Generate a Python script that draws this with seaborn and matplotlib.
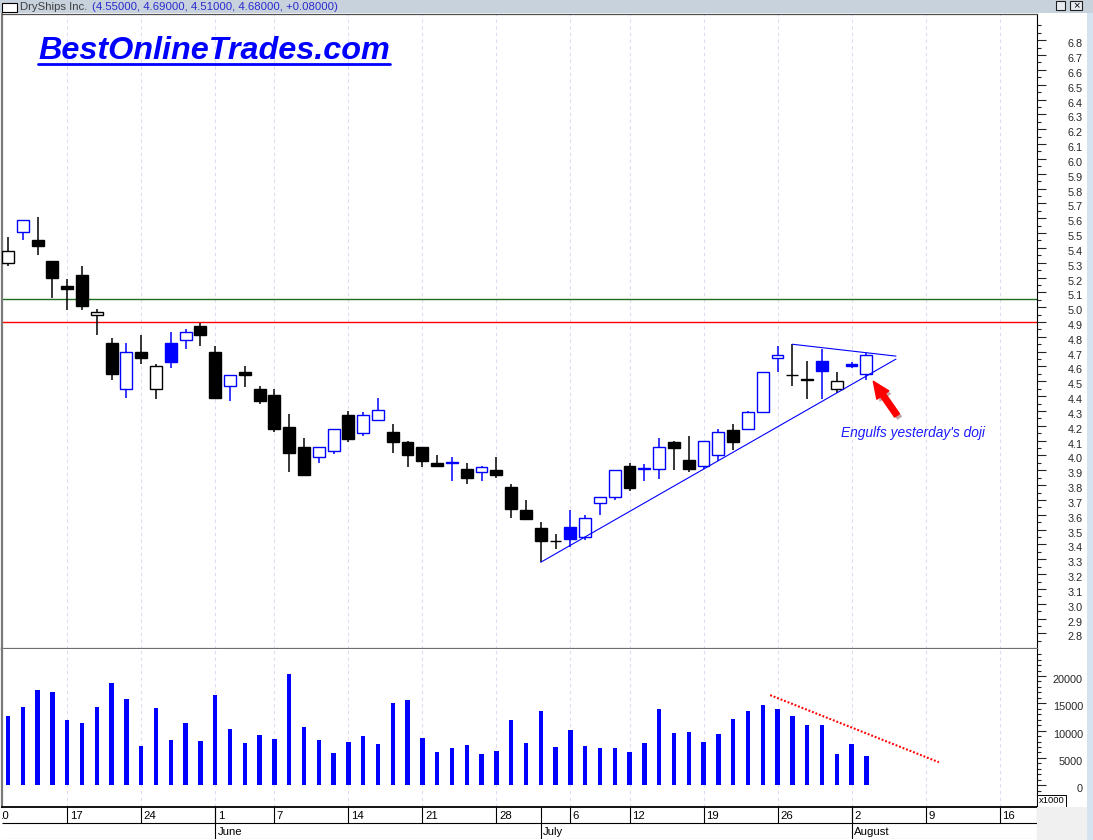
import matplotlib
matplotlib.use("Agg")
import matplotlib.pyplot as plt
import matplotlib.patheffects as pe
import matplotlib.transforms as mtransforms
from matplotlib.lines import Line2D
from matplotlib.patches import Rectangle
import numpy as np
import pandas as pd
import seaborn as sns

sns.set_style("white")
plt.rcParams["font.family"] = ["Liberation Sans", "DejaVu Sans"]

# ---- daily bars, DryShips Inc. (price in $, volume in thousands of shares) ----
opens = [5.30, 5.51, 5.45, 5.31, 5.14, 5.22, 4.95, 4.76, 4.45, 4.70,
         4.45, 4.76, 4.78, 4.87, 4.70, 4.47, 4.56, 4.45, 4.41, 4.19,
         4.06, 3.99, 4.03, 4.27, 4.15, 4.24, 4.16, 4.09, 4.06, 3.95,
         3.95, 3.91, 3.89, 3.90, 3.79, 3.63, 3.51, 3.42, 3.52, 3.45,
         3.68, 3.72, 3.93, 3.91, 3.91, 4.09, 3.97, 3.93, 4.00, 4.17,
         4.18, 4.29, 4.66, 4.54, 4.51, 4.64, 4.45, 4.62, 4.55]
highs = [5.47, 5.59, 5.61, 5.31, 5.19, 5.28, 4.99, 4.79, 4.76, 4.81,
         4.62, 4.83, 4.85, 4.89, 4.74, 4.54, 4.60, 4.47, 4.45, 4.28,
         4.12, 4.06, 4.18, 4.30, 4.29, 4.39, 4.21, 4.10, 4.06, 4.00,
         3.99, 3.95, 3.93, 3.99, 3.81, 3.70, 3.55, 3.47, 3.63, 3.60,
         3.72, 3.90, 3.95, 3.94, 4.12, 4.10, 4.13, 4.10, 4.18, 4.21,
         4.30, 4.56, 4.74, 4.75, 4.64, 4.72, 4.56, 4.63, 4.69]
lows = [5.28, 5.45, 5.35, 5.06, 4.98, 4.98, 4.81, 4.51, 4.39, 4.62,
        4.38, 4.59, 4.72, 4.74, 4.38, 4.37, 4.46, 4.35, 4.16, 3.89,
        3.86, 3.95, 4.01, 4.09, 4.13, 4.23, 4.02, 3.92, 3.92, 3.92,
        3.83, 3.81, 3.83, 3.85, 3.58, 3.57, 3.28, 3.37, 3.38, 3.43,
        3.60, 3.70, 3.76, 3.83, 3.84, 3.90, 3.89, 3.91, 3.96, 4.04,
        4.18, 4.29, 4.56, 4.47, 4.38, 4.38, 4.42, 4.59, 4.51]
closes = [5.38, 5.59, 5.41, 5.20, 5.12, 5.01, 4.97, 4.55, 4.70, 4.66,
          4.60, 4.63, 4.83, 4.81, 4.39, 4.54, 4.54, 4.37, 4.18, 4.02,
          3.87, 4.06, 4.18, 4.11, 4.27, 4.31, 4.09, 4.00, 3.96, 3.93,
          3.95, 3.85, 3.92, 3.87, 3.64, 3.57, 3.42, 3.42, 3.44, 3.58,
          3.72, 3.90, 3.78, 3.91, 4.06, 4.05, 3.91, 4.10, 4.16, 4.09,
          4.29, 4.56, 4.68, 4.54, 4.51, 4.57, 4.50, 4.60, 4.68]
volumes = [12700, 14400, 17500, 17000, 12000, 11300, 14400, 18650, 15850, 7250,
           14200, 8350, 11450, 8150, 16600, 10350, 7800, 9250, 8500, 20300,
           10700, 8350, 5950, 7950, 9050, 7600, 15000, 15650, 8700, 6150,
           6850, 7400, 5750, 6300, 11850, 7800, 13500, 7050, 10150, 7250,
           6850, 6850, 6150, 7800, 14000, 9600, 9800, 7950, 9450, 12200,
           13650, 14750, 14000, 12750, 11100, 11100, 5750, 7600, 5400]

# calendar axis: bar index of each week start, and of each month start
week_ticks = [-1, 4, 9, 14, 18, 23, 28, 33, 38, 42, 47, 52, 57, 62, 67]
week_labels = ["10", "17", "24", "1", "7", "14", "21", "28", "6", "12",
               "19", "26", "2", "9", "16"]
month_ticks = [14, 36, 57]
month_labels = ["June", "July", "August"]

# drawn study lines
support_x = [36, 60.0]
support_y = [3.28, 4.65]
resist_x = [53, 60.0]
resist_y = [4.75, 4.67]
vol_trend_x = [51.5, 62.9]
vol_trend_y = [16500, 4200]
red_level = 4.90
green_level = 5.055

price_ticks = np.round(np.arange(2.8, 6.81, 0.1), 1)
vol_ticks = [0, 5000, 10000, 15000, 20000]

XLIM = (-0.405, 69.53)
PRICE_LIM = (2.695, 6.977)
VOL_LIM = (-4000, 24950)

BLUE = "#0000ff"
df = pd.DataFrame({"open": opens, "high": highs, "low": lows,
                   "close": closes, "volume": volumes})
df["idx"] = np.arange(len(df))
prev_close = df["close"].shift(1)
df["color"] = np.where(df["close"] > prev_close, BLUE, "#000000")
df["filled"] = df["close"] < df["open"]

W, H = 1093, 840
fig = plt.figure(figsize=(W / 100, H / 100), dpi=100)
fig.patch.set_facecolor("white")


def box(x0, y0, x1, y1):
    return [x0 / W, 1 - y1 / H, (x1 - x0) / W, (y1 - y0) / H]


# window chrome: caption bar, scroll strip, corner
fig.patches.append(Rectangle((0, 1 - 13 / H), 1, 13 / H, transform=fig.transFigure,
                             facecolor="#c8d2dc", edgecolor="none", zorder=0))
fig.patches.append(Rectangle((1087 / W, 0), 6 / W, 1 - 13 / H, transform=fig.transFigure,
                             facecolor="#d5e2f0", edgecolor="none", zorder=0))
fig.patches.append(Rectangle((1037 / W, 0), 50 / W, 1 - 807 / H, transform=fig.transFigure,
                             facecolor="#f0f0f0", edgecolor="none", zorder=0))
fig.patches.append(Rectangle((2 / W, 1 - 11.5 / H), 15 / W, 9 / H, transform=fig.transFigure,
                             facecolor="white", edgecolor="black", lw=0.8, zorder=1))
fig.patches.append(Rectangle((1056 / W, 1 - 10 / H), 9 / W, 9 / H, transform=fig.transFigure,
                             facecolor="#e8ecf0", edgecolor="#202020", lw=0.8, zorder=1))
fig.patches.append(Rectangle((1070 / W, 1 - 10 / H), 12 / W, 9 / H, transform=fig.transFigure,
                             facecolor="#e8ecf0", edgecolor="#202020", lw=0.8, zorder=1))
fig.text(1076 / W, 1 - 5.5 / H, "×", fontsize=8, ha="center", va="center", color="black")
fig.text(20 / W, 1 - 6.5 / H, "DryShips Inc.", fontsize=8.2, color="#404040",
         ha="left", va="center")
fig.text(92 / W, 1 - 6.5 / H, "(4.55000, 4.69000, 4.51000, 4.68000, +0.08000)",
         fontsize=8.2, color="#2a2ad0", ha="left", va="center")

ax_p = fig.add_axes(box(2, 14, 1037, 649))
ax_v = fig.add_axes(box(2, 649, 1037, 807))
ax_d = fig.add_axes(box(2, 807, 1037, 839))

grid_ticks = [t for t in week_ticks if XLIM[0] < t < XLIM[1]]
grid_kw = dict(colors="#dcdcf2", linestyles=(0, (3, 3)), lw=0.8, zorder=0)

# ---------------- price panel ----------------
ax_p.vlines(grid_ticks, *PRICE_LIM, **grid_kw)
ax_p.axhline(green_level, color="#1f6b1f", lw=1.0, zorder=1)
ax_p.axhline(red_level, color="#ff0000", lw=1.0, zorder=1)

ax_p.vlines(df["idx"], df["low"], df["high"], colors=df["color"], lw=1.1, zorder=3)
body_lo = np.minimum(df["open"], df["close"])
body_h = np.maximum((df["close"] - df["open"]).abs(), 0.005)
faces = np.where(df["filled"], df["color"], "white")
ax_p.bar(df["idx"], body_h, bottom=body_lo, width=0.8, color=faces,
         edgecolor=df["color"], linewidth=1.0, zorder=4)

sns.lineplot(x=support_x, y=support_y, ax=ax_p, color=BLUE, linewidth=0.8, zorder=5)
sns.lineplot(x=resist_x, y=resist_y, ax=ax_p, color=BLUE, linewidth=0.8, zorder=5)

ax_p.annotate("", xy=(58.47, 4.50), xytext=(60.07, 4.27),
              arrowprops=dict(arrowstyle="simple,head_length=1.2,head_width=1.05,tail_width=0.42",
                              color="#ff0000", shrinkA=0, shrinkB=0,
                              path_effects=[pe.SimplePatchShadow(offset=(2, -2), alpha=0.35),
                                            pe.Normal()]),
              zorder=6)
ax_p.text(56.3, 4.152, "Engulfs yesterday's doji", color="#1a1aff", fontsize=9.9,
          style="italic", ha="left", va="center", zorder=6)

ax_p.set_xlim(*XLIM)
ax_p.set_ylim(*PRICE_LIM)
ax_p.set_xticks([])
ax_p.yaxis.tick_right()
ax_p.set_yticks(price_ticks)
ax_p.set_yticklabels([f"{v:.1f}" for v in price_ticks])
ax_p.set_yticks(np.round(np.arange(2.75, 6.95, 0.05), 2), minor=True)
ax_p.tick_params(axis="y", which="major", direction="out", length=6.3, width=0.8,
                 labelsize=7.8, labelcolor="#262626", pad=26.8, right=True)
ax_p.tick_params(axis="y", which="minor", direction="out", length=3.1, width=0.8, right=True)
ax_p.set_xlabel("")
ax_p.set_ylabel("")

# ---------------- volume panel ----------------
ax_v.vlines(grid_ticks, *VOL_LIM, **grid_kw)
sns.barplot(x=df["idx"], y=df["volume"], native_scale=True, width=0.29, color=BLUE,
            saturation=1, errorbar=None, linewidth=0, ax=ax_v, zorder=3)
sns.lineplot(x=vol_trend_x, y=vol_trend_y, ax=ax_v, color="#ff0000", linewidth=1.5,
             linestyle=(0, (0.9, 0.9)), zorder=4)
ax_v.set_xlim(*XLIM)
ax_v.set_ylim(*VOL_LIM)
ax_v.set_xticks([])
ax_v.yaxis.tick_right()
ax_v.set_yticks(vol_ticks)
ax_v.set_yticklabels([str(v) for v in vol_ticks])
ax_v.set_yticks(np.arange(-3000, 24001, 1000), minor=True)
ax_v.tick_params(axis="y", which="major", direction="out", length=6.3, width=0.8,
                 labelsize=7.8, labelcolor="#262626", pad=26.8, right=True)
ax_v.tick_params(axis="y", which="minor", direction="out", length=3.1, width=0.8, right=True)
ax_v.set_xlabel("")
ax_v.set_ylabel("")
ax_v.text(1.0015, 0.01, "x1000", transform=ax_v.transAxes, fontsize=6.8, ha="left",
          va="bottom", color="black",
          bbox=dict(boxstyle="square,pad=0.15", facecolor="white", edgecolor="black", lw=0.7))

# label right-aligned against the window edge, a little below its tick
shift = mtransforms.ScaledTranslation(0, -3 / 100, fig.dpi_scale_trans)
for ax in (ax_p, ax_v):
    for lab in ax.yaxis.get_majorticklabels():
        lab.set_horizontalalignment("right")
        lab.set_transform(lab.get_transform() + shift)

# frames
for ax in (ax_p, ax_v):
    ax.spines["left"].set_color("#7a7a7a")
    ax.spines["left"].set_linewidth(1.6)
    ax.spines["right"].set_color("black")
    ax.spines["right"].set_linewidth(0.8)
ax_p.spines["top"].set_color("#505050")
ax_p.spines["top"].set_linewidth(0.9)
ax_p.spines["bottom"].set_color("#6e6e6e")
ax_p.spines["bottom"].set_linewidth(1.6)
ax_v.spines["top"].set_visible(False)
ax_v.spines["bottom"].set_color("black")
ax_v.spines["bottom"].set_linewidth(1.3)

# ---------------- date strip ----------------
ax_d.set_xlim(*XLIM)
ax_d.set_ylim(0, 2)
ax_d.axis("off")
ax_d.hlines(1.0, *XLIM, colors="black", lw=0.8)
ax_d.hlines(0.02, *XLIM, colors="#b0b0b0", lw=0.8)
ax_d.vlines(week_ticks + month_ticks, 1, 2, colors="black", lw=0.8)
ax_d.vlines(month_ticks, 0, 1, colors="black", lw=0.8)
ax_d.vlines([XLIM[1]], 0, 2, colors="#a0a0a0", lw=0.8)
nudge = ax_d.transData + mtransforms.ScaledTranslation(2.5 / 100, 0, fig.dpi_scale_trans)
for t, lab in zip(week_ticks, week_labels):
    ax_d.text(t, 1.42, lab, transform=nudge, fontsize=8.2, ha="left", va="center",
              color="black", clip_on=True)
for t, lab in zip(month_ticks, month_labels):
    ax_d.text(t, 0.42, lab, transform=nudge, fontsize=8.2, ha="left", va="center",
              color="black", clip_on=True)

# ---------------- site banner ----------------
banner = fig.text(38 / W, 1 - 59 / H, "BestOnlineTrades.com", fontsize=23.3,
                  weight="bold", style="italic", color=BLUE, ha="left", va="baseline")
fig.canvas.draw()
bb = banner.get_window_extent()
fig.add_artist(Line2D([bb.x0 / W, bb.x1 / W], [1 - 64 / H, 1 - 64 / H],
                      transform=fig.transFigure, color=BLUE, lw=2.0))

fig.savefig("out.png", dpi=100, facecolor=fig.get_facecolor())
